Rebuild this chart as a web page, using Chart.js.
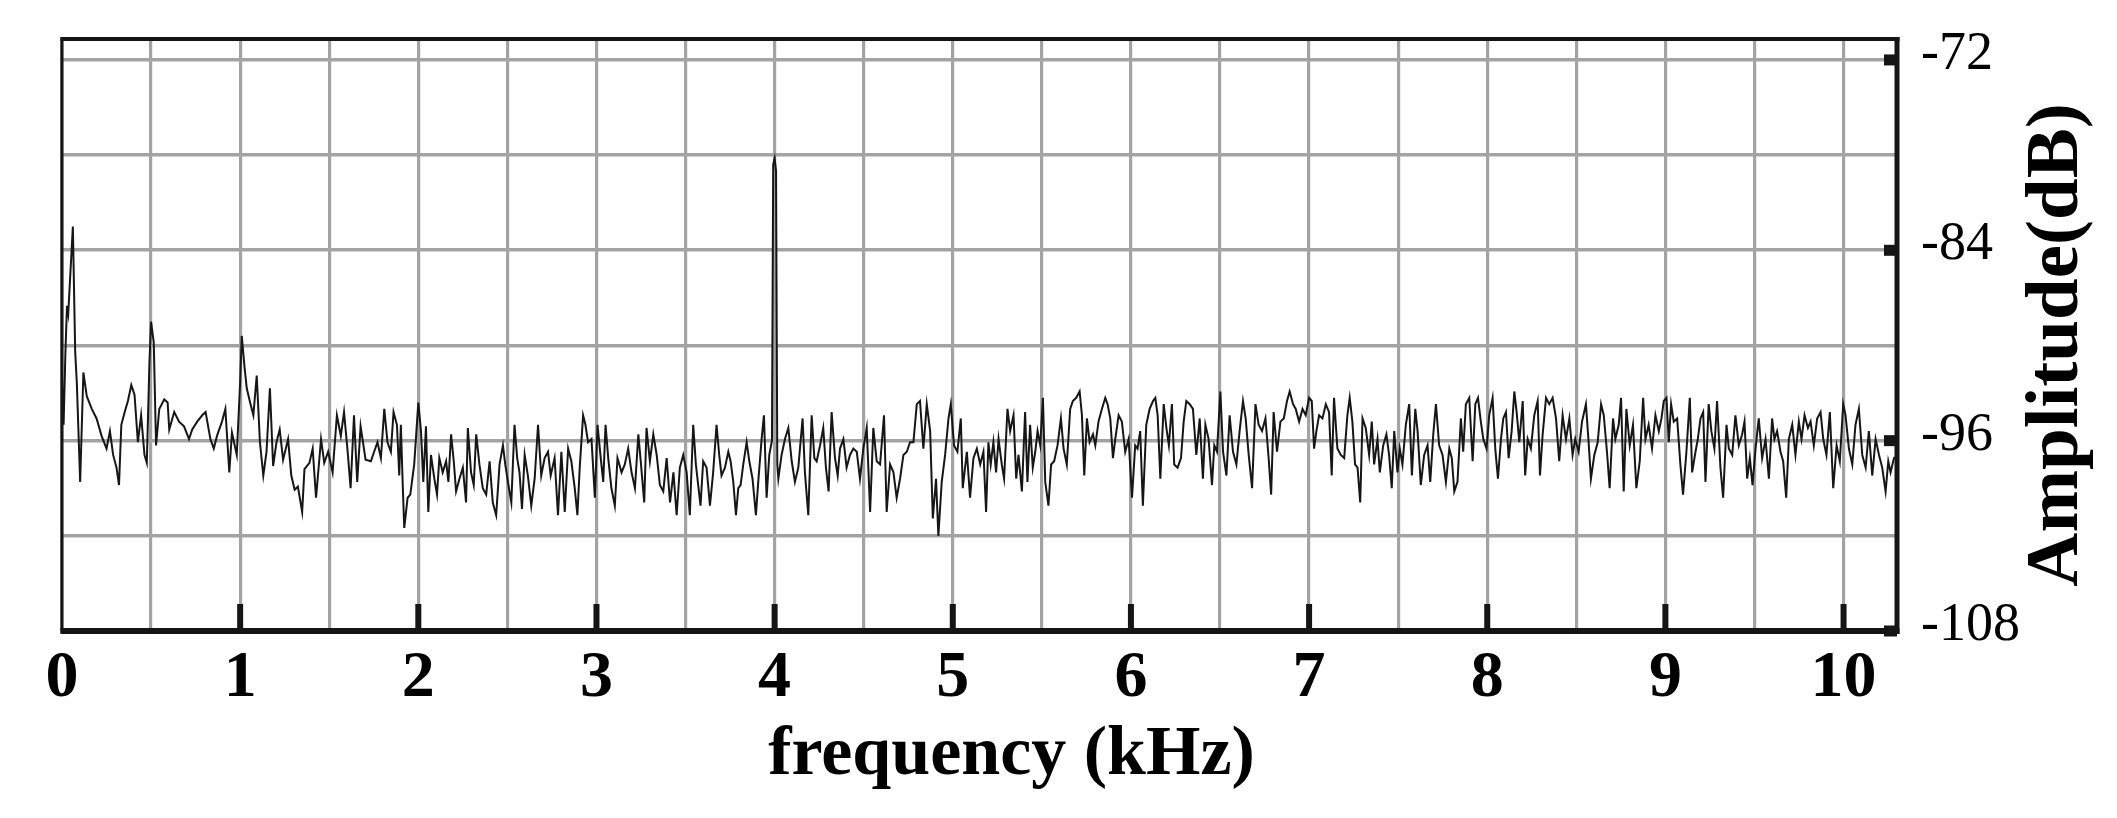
<!DOCTYPE html>
<html><head><meta charset="utf-8">
<script src="https://cdn.jsdelivr.net/npm/chart.js@4.4.1/dist/chart.umd.min.js"></script>
<style>html,body{margin:0;padding:0;background:#fff;overflow:hidden}canvas{display:block}</style>
</head><body>
<canvas id="c" width="2117" height="818"></canvas>
<script>
// ---- Data ----
const xTickValues = [0,0.5,1,1.5,2,2.5,3,3.5,4,4.5,5,5.5,6,6.5,7,7.5,8,8.5,9,9.5,10];
const xLabelValues = [0,1,2,3,4,5,6,7,8,9,10];
const yGridValues = [-108,-102,-96,-90,-84,-78,-72];
const yLabelValues = [-108,-96,-84,-72];
const xTitle = 'frequency (kHz)';
const yTitle = 'Amplitude(dB)';

const freqA = [0.000,0.009,0.019,0.028,0.035,0.061,0.074,0.083,0.102,0.120,0.139,0.167,0.194,0.222,0.250,0.269,0.287,0.306,0.320,0.333,0.352,0.370,0.389,0.407,0.426,0.444,0.463,0.476,0.491,0.500,0.515,0.528,0.546,0.574,0.593,0.602,0.630,0.657,0.685,0.713,0.731,0.759,0.787,0.806,0.833,0.852,0.870,0.898,0.917,0.939,0.954,0.981,1.000,1.009,1.024,1.037,1.056,1.074,1.093,1.111,1.130,1.148,1.167,1.185,1.204,1.222,1.241,1.269,1.287,1.306,1.324,1.348,1.361,1.389,1.407,1.426,1.454,1.472,1.494,1.519,1.543,1.565,1.583,1.602,1.620,1.639,1.657,1.676,1.704];
const ampA = [-92.0,-95.0,-90.5,-87.5,-88.0,-82.5,-90.4,-92.3,-98.6,-91.7,-93.2,-94.0,-94.6,-95.7,-96.5,-95.4,-96.9,-97.7,-98.8,-95.0,-94.2,-93.5,-92.5,-93.1,-96.1,-94.4,-96.9,-97.4,-91.0,-88.5,-89.8,-96.3,-94.0,-93.4,-93.6,-95.3,-94.2,-94.8,-95.1,-95.9,-95.3,-94.8,-94.4,-94.2,-95.9,-96.5,-95.7,-94.8,-94.0,-98.0,-95.5,-96.9,-92.3,-89.4,-91.3,-92.7,-93.6,-94.4,-91.9,-96.1,-98.2,-96.7,-92.7,-97.6,-96.1,-95.3,-97.2,-95.9,-98.2,-99.1,-98.9,-100.5,-97.8,-97.4,-96.5,-99.6,-95.9,-97.4,-96.7,-98.0,-94.4,-95.7,-94.2,-96.5,-99.0,-94.4,-98.6,-95.1,-97.2];

const freqB = [1.734,1.752,1.771,1.790,1.809,1.827,1.846,1.861,1.880,1.893,1.902,1.912,1.921,1.940,1.955,1.977,2.000,2.015,2.028,2.043,2.056,2.071,2.090,2.105,2.118,2.137,2.156,2.169,2.184,2.199,2.212,2.231,2.250,2.268,2.278,2.296,2.311,2.325,2.343,2.362,2.381,2.400,2.418,2.437,2.456,2.475,2.488,2.503,2.522,2.540,2.555,2.568,2.582,2.597,2.615,2.634,2.653,2.672,2.690,2.709,2.728,2.743,2.765,2.784,2.803,2.822,2.841,2.859,2.878,2.893,2.906,2.925,2.938,2.953,2.972,2.991,3.006,3.024,3.038,3.051,3.066,3.084,3.103,3.118,3.141,3.159,3.178,3.197,3.216,3.235,3.250,3.268,3.281,3.300,3.319,3.338,3.356,3.375,3.394,3.413,3.432,3.450];
const ampB = [-97.3,-96.7,-96.1,-97.1,-94.0,-96.1,-96.7,-94.2,-95.0,-98.2,-95.0,-98.6,-101.5,-99.6,-99.4,-97.5,-93.6,-95.4,-98.6,-95.1,-100.5,-96.9,-98.4,-99.4,-97.1,-98.0,-97.3,-98.6,-95.6,-97.3,-99.2,-98.4,-97.7,-99.9,-95.2,-98.0,-98.8,-95.6,-97.5,-99.0,-99.4,-97.3,-99.9,-100.7,-97.5,-96.3,-97.5,-98.6,-99.9,-95.0,-97.1,-98.0,-100.3,-96.9,-98.2,-100.1,-98.4,-95.0,-98.2,-97.1,-96.7,-98.2,-97.1,-100.7,-96.7,-100.5,-96.5,-97.3,-99.0,-100.7,-97.7,-94.4,-95.0,-96.1,-95.9,-99.6,-95.0,-97.1,-98.6,-95.0,-97.1,-99.0,-100.1,-97.1,-98.0,-97.5,-96.5,-98.0,-99.0,-95.6,-97.5,-99.9,-95.2,-97.3,-95.6,-96.9,-98.8,-99.2,-97.1,-99.9,-98.0,-100.7];

const freqC = [3.468,3.487,3.506,3.524,3.543,3.558,3.571,3.584,3.599,3.618,3.637,3.655,3.674,3.689,3.702,3.721,3.740,3.753,3.768,3.783,3.796,3.809,3.824,3.843,3.858,3.876,3.895,3.908,3.927,3.940,3.955,3.970,3.985,3.992,4.000,4.008,4.015,4.021,4.039,4.058,4.077,4.096,4.114,4.133,4.157,4.170,4.189,4.208,4.223,4.236,4.255,4.273,4.288,4.303,4.320,4.339,4.354,4.367,4.386,4.404,4.423,4.442,4.461,4.479,4.498,4.517,4.536,4.554,4.573,4.592,4.614,4.629,4.648,4.667,4.685,4.704,4.723,4.742,4.760,4.779,4.798,4.816,4.835,4.854,4.873,4.888,4.906,4.919,4.938,4.957,4.976,4.989,5.007,5.026,5.045,5.056,5.079,5.097,5.116,5.135,5.154,5.172,5.187];
const ampC = [-97.7,-96.9,-98.0,-100.7,-95.0,-97.5,-98.8,-100.1,-97.3,-97.7,-100.1,-98.0,-95.0,-96.9,-98.2,-97.7,-96.7,-97.3,-98.6,-100.7,-99.0,-98.8,-97.5,-96.1,-97.3,-98.4,-100.7,-98.6,-95.9,-94.4,-99.6,-96.9,-96.0,-78.6,-78.2,-79.0,-97.5,-98.4,-96.9,-95.9,-95.2,-97.3,-98.6,-97.7,-94.6,-98.0,-100.7,-94.4,-97.1,-97.3,-96.3,-95.2,-97.7,-99.2,-94.2,-97.1,-98.2,-96.5,-95.9,-97.7,-96.9,-96.5,-96.7,-98.4,-96.5,-95.2,-100.5,-95.2,-97.3,-97.5,-94.4,-100.5,-97.5,-98.0,-99.6,-98.4,-96.9,-96.7,-96.1,-96.1,-93.7,-93.5,-96.5,-93.7,-95.4,-100.9,-98.4,-102.0,-98.6,-96.9,-94.6,-93.7,-96.3,-96.7,-94.6,-99.0,-96.7,-99.6,-97.1,-96.5,-97.5,-96.7,-100.5];

const freqD = [5.200,5.213,5.228,5.243,5.257,5.275,5.288,5.307,5.322,5.341,5.356,5.369,5.388,5.406,5.419,5.434,5.449,5.463,5.476,5.491,5.506,5.519,5.537,5.552,5.569,5.588,5.607,5.622,5.640,5.659,5.674,5.693,5.712,5.725,5.738,5.753,5.768,5.787,5.800,5.818,5.837,5.856,5.869,5.884,5.899,5.912,5.931,5.949,5.968,5.987,6.006,6.024,6.037,6.052,6.067,6.086,6.105,6.124,6.137,6.150,6.165,6.184,6.199,6.213,6.230,6.243,6.262,6.281,6.296,6.311,6.330,6.348,6.367,6.386,6.404,6.418,6.436,6.455,6.468,6.483,6.502,6.517,6.536,6.554,6.573,6.592,6.610,6.629,6.644,6.661,6.680,6.699,6.717,6.736,6.755,6.773,6.787,6.801,6.820,6.839,6.858,6.876,6.891,6.910];
const ampD = [-96.1,-97.5,-96.1,-98.0,-95.9,-97.5,-98.4,-94.0,-95.4,-94.4,-98.4,-96.9,-99.2,-94.2,-98.6,-95.0,-97.7,-96.7,-95.4,-96.3,-93.3,-98.6,-100.1,-97.5,-97.3,-96.3,-94.6,-96.5,-97.5,-94.0,-93.5,-93.3,-92.9,-94.4,-98.2,-94.6,-96.1,-95.6,-96.3,-94.8,-94.0,-93.3,-93.7,-94.6,-97.1,-95.9,-94.4,-94.8,-96.7,-95.9,-99.6,-96.3,-96.5,-95.4,-100.1,-95.0,-94.0,-93.5,-93.3,-94.4,-98.4,-93.7,-95.2,-96.3,-93.7,-97.5,-97.7,-97.1,-94.8,-93.5,-93.7,-94.0,-96.9,-94.6,-98.4,-95.0,-95.9,-98.8,-96.3,-96.7,-92.9,-96.7,-98.2,-94.4,-96.7,-97.5,-95.4,-93.5,-94.6,-96.9,-99.0,-93.7,-95.0,-95.4,-94.6,-97.1,-99.4,-94.2,-96.7,-94.8,-94.6,-93.5,-92.9,-93.7];

const freqE = [6.925,6.944,6.963,6.981,7.000,7.015,7.028,7.041,7.056,7.075,7.094,7.112,7.127,7.140,7.159,7.178,7.197,7.215,7.228,7.243,7.258,7.272,7.287,7.300,7.318,7.337,7.352,7.365,7.384,7.397,7.416,7.434,7.449,7.464,7.478,7.496,7.509,7.524,7.543,7.562,7.577,7.596,7.609,7.627,7.646,7.665,7.680,7.697,7.712,7.730,7.749,7.768,7.787,7.801,7.815,7.833,7.852,7.865,7.880,7.899,7.918,7.933,7.948,7.964,7.978,7.996,8.011,8.030,8.045,8.060,8.077,8.090,8.105,8.120,8.137,8.152,8.165,8.180,8.199,8.213,8.227,8.245,8.264,8.283,8.296,8.311,8.330,8.348,8.367,8.386,8.404,8.423,8.442,8.461,8.479,8.494,8.513,8.532,8.554,8.569,8.582,8.601,8.620,8.639];
const ampE = [-94.0,-94.8,-94.0,-94.4,-93.3,-93.5,-96.5,-95.4,-94.4,-94.6,-93.7,-94.2,-98.2,-93.3,-96.5,-96.9,-97.1,-94.4,-93.3,-94.8,-97.5,-97.7,-99.9,-94.6,-95.2,-96.9,-94.8,-97.5,-95.9,-98.0,-96.3,-95.6,-96.9,-99.0,-95.4,-98.0,-96.5,-97.5,-95.0,-93.7,-98.2,-94.0,-95.4,-98.8,-96.9,-96.3,-98.6,-95.6,-93.7,-96.3,-96.9,-98.6,-96.5,-97.1,-99.2,-98.6,-94.6,-96.7,-93.7,-93.3,-97.3,-93.7,-93.3,-94.8,-95.9,-96.5,-94.4,-93.3,-96.5,-98.4,-95.9,-94.6,-94.2,-97.1,-95.4,-92.9,-94.2,-96.1,-93.5,-98.2,-95.9,-96.5,-94.4,-93.5,-98.2,-95.6,-93.3,-93.7,-93.3,-94.6,-97.3,-94.4,-95.9,-94.6,-96.9,-95.9,-96.7,-94.8,-93.7,-96.1,-98.4,-96.9,-96.1,-93.7];

const freqF = [8.654,8.672,8.687,8.706,8.719,8.738,8.751,8.766,8.781,8.800,8.818,8.837,8.856,8.875,8.888,8.906,8.925,8.944,8.963,8.978,8.991,9.006,9.019,9.032,9.047,9.066,9.084,9.099,9.118,9.137,9.150,9.169,9.182,9.197,9.212,9.225,9.243,9.258,9.275,9.290,9.309,9.324,9.343,9.356,9.375,9.393,9.412,9.431,9.444,9.459,9.474,9.489,9.506,9.524,9.543,9.562,9.581,9.599,9.612,9.627,9.646,9.661,9.678,9.693,9.712,9.730,9.749,9.764,9.781,9.800,9.815,9.833,9.852,9.871,9.886,9.904,9.923,9.942,9.961,9.979,9.998,10.011,10.030,10.049,10.067,10.086,10.105,10.124,10.142,10.161,10.180,10.199,10.217,10.236,10.251,10.264,10.283,10.300];
const ampF = [-94.4,-96.7,-99.0,-94.6,-95.9,-95.0,-93.3,-99.2,-94.0,-96.3,-95.0,-99.0,-97.3,-93.3,-95.9,-95.0,-96.5,-94.4,-95.4,-94.6,-93.5,-93.3,-96.1,-93.7,-94.8,-94.6,-97.5,-99.4,-96.7,-93.3,-98.0,-96.7,-95.9,-94.6,-94.2,-98.6,-93.7,-95.4,-96.5,-93.5,-97.7,-99.6,-95.0,-96.5,-96.9,-94.4,-96.3,-95.6,-94.8,-98.4,-97.1,-98.8,-96.5,-94.6,-97.1,-95.9,-98.4,-94.6,-95.9,-95.4,-96.7,-97.3,-99.6,-95.9,-95.0,-96.9,-94.8,-95.9,-94.4,-95.2,-94.8,-96.3,-94.6,-94.2,-95.9,-96.9,-94.2,-99.0,-96.3,-97.3,-93.7,-94.4,-96.5,-97.5,-95.0,-94.0,-96.9,-97.7,-95.4,-98.2,-95.9,-96.9,-97.7,-99.2,-97.3,-98.0,-97.1,-97.0];

// ---- Build points from the arrays ----
const freqs = [].concat(freqA, freqB, freqC, freqD, freqE, freqF);
const amps  = [].concat(ampA, ampB, ampC, ampD, ampE, ampF);
const n = Math.min(freqs.length, amps.length);
const points = [];
for (let i = 0; i < n; i++) points.push({x: freqs[i], y: amps[i]});

const SERIF = "'Liberation Serif','Times New Roman',serif";

const framePlugin = {
  id: 'frame',
  afterDatasetsDraw(chart) {
    const {ctx, chartArea: a, scales: {x, y}} = chart;
    ctx.save();
    ctx.fillStyle = '#151515';
    // inward tick marks on the bottom axis
    xLabelValues.forEach(v => {
      if (v === 0) return;
      const px = x.getPixelForValue(v);
      ctx.fillRect(px - 3, a.bottom - 27, 6, 27);
    });
    // inward tick marks on the right axis
    yLabelValues.forEach(v => {
      const py = y.getPixelForValue(v);
      ctx.fillRect(a.right - 13, py - 5.5, 13, 11);
    });
    // frame
    ctx.fillRect(a.left - 1.5, a.top - 2, 3, a.bottom - a.top + 4);      // left
    ctx.fillRect(a.left - 1.5, a.top - 2, a.right - a.left + 4, 4);      // top
    ctx.fillRect(a.right - 2.5, a.top - 2, 5, a.bottom - a.top + 5);     // right
    ctx.fillRect(a.left - 1.5, a.bottom - 3, a.right - a.left + 4, 6);   // bottom
    ctx.restore();
  },
  afterDraw(chart) {
    const {ctx, chartArea: a} = chart;
    ctx.save();
    ctx.fillStyle = '#000';
    ctx.font = "bold 70px " + SERIF;
    ctx.textAlign = 'center';
    ctx.textBaseline = 'alphabetic';
    ctx.fillText(xTitle, (a.left + a.right) / 2 + 32, a.bottom + 143);
    ctx.translate(a.right + 180, (a.top + a.bottom) / 2 + 10);
    ctx.rotate(-Math.PI / 2);
    ctx.font = "bold 75px " + SERIF;
    ctx.fillText(yTitle, 0, 0);
    ctx.restore();
  }
};

new Chart(document.getElementById('c'), {
  type: 'line',
  data: {
    datasets: [{
      data: points,
      borderColor: '#161616',
      borderWidth: 2,
      pointRadius: 0,
      tension: 0,
      fill: false
    }]
  },
  options: {
    responsive: false,
    animation: false,
    events: [],
    layout: { padding: { left: 62, top: 39, right: 0, bottom: 0 } },
    plugins: { legend: { display: false }, tooltip: { enabled: false } },
    scales: {
      x: {
        type: 'linear',
        position: 'bottom',
        min: 0,
        max: 10.3,
        afterBuildTicks: s => { s.ticks = xTickValues.map(v => ({value: v})); },
        afterFit: s => { s.height = 187; s.paddingLeft = 0; s.paddingRight = 0; },
        border: { display: false },
        grid: { color: '#a3a3a3', lineWidth: 3.2, drawTicks: false },
        ticks: {
          autoSkip: false,
          maxRotation: 0,
          minRotation: 0,
          padding: 8,
          color: '#000',
          font: { family: SERIF, size: 66, weight: 'bold' },
          callback: v => (xLabelValues.includes(v) ? String(v) : '')
        }
      },
      y: {
        type: 'linear',
        position: 'right',
        min: -108,
        max: -70.68,
        afterBuildTicks: s => { s.ticks = yGridValues.map(v => ({value: v})); },
        afterFit: s => { s.width = 220; s.paddingTop = 0; s.paddingBottom = 0; },
        border: { display: false },
        grid: { color: '#a3a3a3', lineWidth: 3.6, drawTicks: false },
        ticks: {
          autoSkip: false,
          padding: 24,
          labelOffset: -5,
          color: '#000',
          font: { family: SERIF, size: 54 },
          callback: v => (yLabelValues.includes(v) ? String(v) : '')
        }
      }
    }
  },
  plugins: [framePlugin]
});
</script>
</body></html>
